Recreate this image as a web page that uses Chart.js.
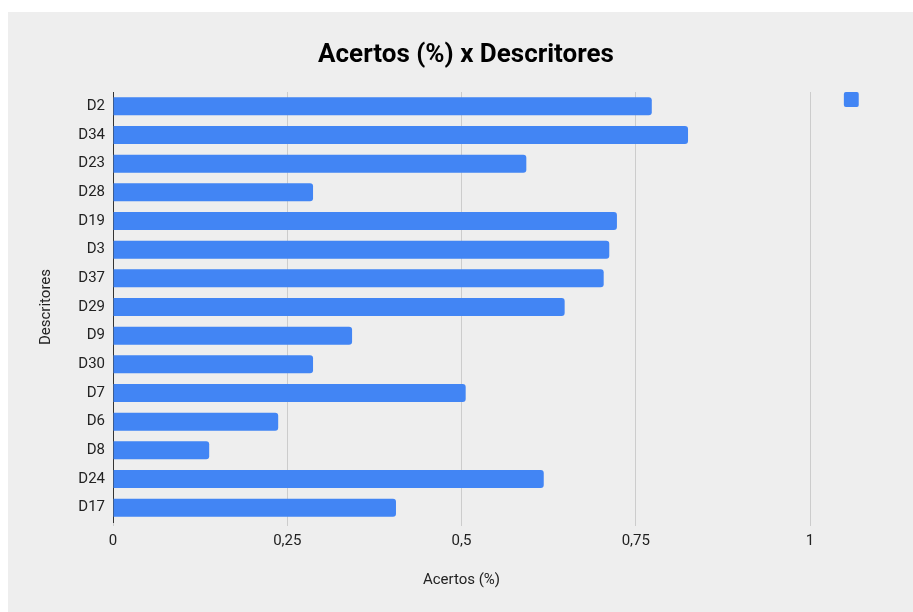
<!DOCTYPE html>
<html>
<head>
<meta charset="utf-8">
<script src="https://cdn.jsdelivr.net/npm/chart.js@4/dist/chart.umd.min.js"></script>
<style>
  html, body { margin: 0; padding: 0; background: #ffffff; }
  #wrap { position: absolute; left: 8px; top: 12px; width: 905px; height: 600px; background: #eeeeee; }
</style>
</head>
<body>
<div id="wrap"><canvas id="myChart"></canvas></div>
<script>
var descritores = ["D2", "D34", "D23", "D28", "D19", "D3", "D37", "D29", "D9", "D30", "D7", "D6", "D8", "D24", "D17"];
var acertos = [0.773, 0.825, 0.593, 0.287, 0.723, 0.712, 0.704, 0.648, 0.343, 0.287, 0.506, 0.237, 0.138, 0.618, 0.406];
var xTickLabels = ["0", "0,25", "0,5", "0,75", "1"];

Chart.defaults.font.family = "Roboto";
Chart.defaults.color = "#222222";

const ctx = document.getElementById("myChart");
new Chart(ctx, {
  type: "bar",
  data: {
    labels: descritores,
    datasets: [
      {
        label: "      ",
        data: acertos,
        backgroundColor: "#4285f4",
        borderWidth: 0,
        borderRadius: 3,
        categoryPercentage: 1,
        barPercentage: 0.63
      }
    ]
  },
  options: {
    indexAxis: "y",
    responsive: true,
    maintainAspectRatio: false,
    animation: false,
    layout: { padding: { left: 11, right: 0, top: 0, bottom: 0 } },
    plugins: {
      title: {
        display: true,
        text: "Acertos (%) x Descritores",
        color: "#000000",
        font: { size: 26, weight: "bold", lineHeight: 1 },
        padding: { top: 30, bottom: 24 }
      },
      legend: {
        position: "right",
        align: "start",
        fullSize: false,
        rtl: true,
        labels: {
          boxWidth: 15,
          boxHeight: 15,
          padding: 0,
          font: { size: 12 },
          useBorderRadius: true,
          borderRadius: 2
        }
      },
      tooltip: { enabled: false }
    },
    scales: {
      x: {
        min: 0,
        max: 1,
        ticks: {
          stepSize: 0.25,
          padding: 6,
          font: { size: 15 },
          color: "#222222",
          callback: function (value, index) { return xTickLabels[index]; }
        },
        grid: { color: "#cccccc", lineWidth: 1, tickLength: 4, drawTicks: true },
        border: { display: false },
        title: {
          display: true,
          text: "Acertos (%)",
          font: { size: 15 },
          color: "#222222",
          padding: { top: 0, bottom: 23 }
        },
        afterFit: function (scale) {
          scale.height = 90;
          scale.paddingRight = 103;
        }
      },
      y: {
        ticks: { padding: 8, font: { size: 15 }, color: "#222222" },
        grid: { display: false, drawTicks: false },
        border: { display: true, color: "#333333", width: 1 },
        title: {
          display: true,
          text: "Descritores",
          font: { size: 15 },
          color: "#222222",
          padding: { top: 18, bottom: 0 }
        },
        afterFit: function (scale) {
          scale.width = 94;
        }
      }
    }
  }
});
</script>
</body>
</html>
